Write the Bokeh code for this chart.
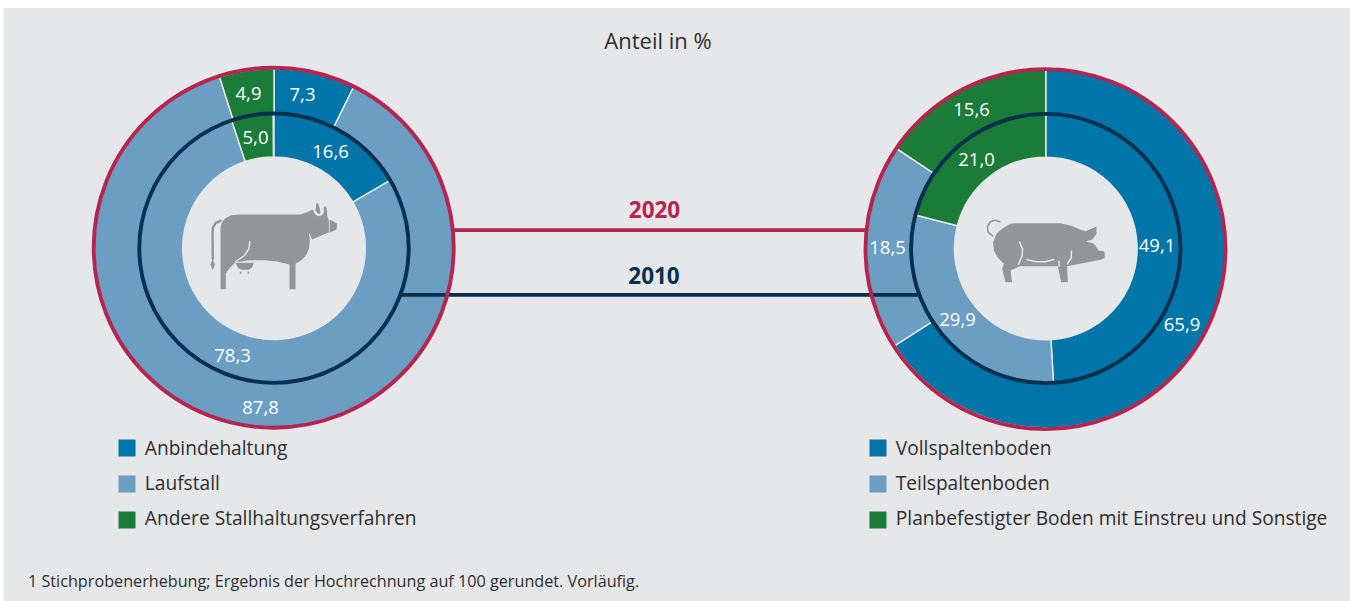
from bokeh.plotting import figure
from bokeh.embed import file_html
from bokeh.resources import INLINE
from bokeh.models import Range1d
from bokeh.core.properties import value
import math

# ---- data ----
cattle_labels = ["Anbindehaltung", "Laufstall", "Andere Stallhaltungsverfahren"]
cattle_2020 = [7.3, 87.8, 4.9]
cattle_2010 = [16.6, 78.3, 5.0]
pig_labels = ["Vollspaltenboden", "Teilspaltenboden", "Planbefestigter Boden mit Einstreu und Sonstige"]
pig_2020 = [65.9, 18.5, 15.6]
pig_2010 = [49.1, 29.9, 21.0]
title_text = "Anteil in %"
footnote = "1 Stichprobenerhebung; Ergebnis der Hochrechnung auf 100 gerundet. Vorläufig."

# ---- style ----
BG = "#e6e7e9"; BLUE = "#0076a8"; LIGHT = "#6c9dc3"; GREEN = "#1a7c38"
RED = "#b5254f"; NAVY = "#07304f"; ICON = "#939598"; TXT = "#2d2d30"
COLS = [BLUE, LIGHT, GREEN]
FONT = value("Open Sans")
W, H = 1350, 601

p = figure(width=W, height=H, output_backend="svg", toolbar_location=None,
           x_range=Range1d(0, W), y_range=Range1d(0, H), min_border=0,
           border_fill_color="white", background_fill_color="white",
           styles={"position": "absolute", "left": "0px", "top": "0px"})
p.axis.visible = False
p.grid.visible = False
p.outline_line_color = None

def Y(v):
    return H - v

p.quad(left=[3], right=[W], top=[Y(7.5)], bottom=[0], fill_color=BG, line_color=None)

def donut(cx, cy, r0, r1, vals):
    start = math.pi / 2
    for v, c in zip(vals, COLS):
        end = start - v / 100 * 2 * math.pi
        p.annular_wedge(x=[cx], y=[Y(cy)], inner_radius=r0, outer_radius=r1,
                        start_angle=end, end_angle=start, fill_color=c,
                        line_color=BG, line_width=1.5)
        start = end

def ring(cx, cy, r, col):
    p.circle(x=[cx], y=[Y(cy)], radius=r, fill_color=None, line_color=col, line_width=3.9)

def txt(x, y, s, size, col=TXT, style="normal", align="left"):
    p.text(x=[x], y=[Y(y)], text=[s], text_font=FONT, text_font_size=f"{size}px",
           text_color=col, text_font_style=style, text_align=align, text_baseline="middle")

def curve(pts, col, w):
    p.line([a for a, _ in pts], [Y(b) for _, b in pts], line_color=col, line_width=w,
           line_cap="round", line_join="round")

LC = (273.5, 247.7); RC = (1045.3, 248.0)

donut(*LC, 134, 179.5, cattle_2020)
donut(*RC, 134, 179.5, pig_2020)
donut(*LC, 91.3, 135, cattle_2010)
donut(*RC, 91.3, 135, pig_2010)

# connector lines
curve([(454, 229.6), (865, 229.6)], RED, 3.7)
curve([(400, 294.3), (917, 294.3)], NAVY, 3.7)

ring(273.2, 247.2, 180, RED); ring(1045, 248.6, 180, RED)
ring(*LC, 134.7, NAVY); ring(*RC, 134.7, NAVY)

# icons (decorative outlines, in zoomed crop coordinates)
def cow(z):
    return [(180 + a / 3, 190 + b / 3) for a, b in z]
def pig(z):
    return [(970 + a / 3, 200 + b / 3) for a, b in z]

def fill(pts):
    p.patch([a for a, _ in pts], [Y(b) for _, b in pts], fill_color=ICON, line_color=None)

fill(cow([(120,296),(120,110),(124,96),(134,84),(150,75),(175,72),(360,72),(380,65),(398,57),(402,70),(412,77),(424,75),
          (430,66),(430,48),(436,48),(440,60),(440,75),(445,90),(445,125),(395,147),(385,125),(388,150),(386,172),(378,192),
          (365,208),(345,220),(345,296),(327,296),(327,222),(290,213),(250,209),(200,210),(165,215),(148,232),(136,248),(136,296)]))
fill(cow([(408,35),(414,42),(418,55),(420,68),(412,70),(405,60)]))
fill(cow([(448,87),(470,100),(468,117),(447,127)]))
fill(cow([(165,217),(220,217),(215,230),(205,238),(182,238),(172,232)]))
fill(cow([(97,205),(103,222),(97,240),(90,222)]))
curve(cow([(120,91),(105,98),(97,112),(96,130),(97,205)]), ICON, 2.4)
curve(cow([(208,153),(205,175),(192,195),(166,213)]), BG, 1.5)
fill(cow([(178,244),(183,244),(183,250),(178,250)]))
fill(cow([(201,244),(206,244),(206,250),(201,250)]))

fill(pig([(95,85),(120,70),(135,68),(270,68),(300,75),(330,88),(345,92),(378,78),(378,100),(366,117),(347,122),(370,130),
          (385,150),(402,153),(403,172),(390,178),(290,197),(292,245),(272,245),(262,197),(148,197),(120,210),(125,245),
          (105,245),(95,205),(100,190),(82,172),(70,150),(68,125),(78,100)]))
curve(pig([(88,64),(75,59),(60,63),(51,78),(53,95),(66,106)]), ICON, 1.6)
curve(pig([(147,125),(156,145),(155,165),(144,191)]), BG, 1.5)
curve(pig([(169,177),(195,184),(225,184),(250,177)]), BG, 1.5)
curve(pig([(303,152),(302,172),(291,190)]), BG, 1.5)
curve(pig([(265,182),(266,197)]), BG, 1.5)

# value labels, placed by hand as in the reference
LABEL_XY_L = [(302, 94), (260, 406.5), (248, 92.5)]
LABEL_XY_L2 = [(330, 150.5), (232, 354.5), (255, 136.5)]
LABEL_XY_R = [(1181.5, 323.5), (887, 246.5), (971, 108.5)]
LABEL_XY_R2 = [(1156.5, 244.5), (957, 318.5), (976, 158.5)]
def vlabels(vals, pos):
    for v, (a, b) in zip(vals, pos):
        txt(a, b, f"{v:.1f}".replace(".", ","), 18.5, "white", align="center")
vlabels(cattle_2020, LABEL_XY_L); vlabels(cattle_2010, LABEL_XY_L2)
vlabels(pig_2020, LABEL_XY_R); vlabels(pig_2010, LABEL_XY_R2)

txt(657.5, 39.5, title_text, 22, align="center")
txt(654, 209, "2020", 22.5, RED, "bold", "center")
txt(653.5, 275, "2010", 22.5, NAVY, "bold", "center")

# legends
def legend(x, labels):
    for i, (s, c) in enumerate(zip(labels, COLS)):
        top = 439 + i * 36
        p.quad(left=[x], right=[x + 17], top=[Y(top)], bottom=[Y(top + 17)], fill_color=c, line_color=None)
        txt(x + 26.3, 447.5 + i * 35.2, s, 19.15)
legend(118, cattle_labels)
legend(869, pig_labels)

txt(27.5, 580.5, footnote, 16.2)

open("out.html", "w").write(file_html(p, INLINE))
